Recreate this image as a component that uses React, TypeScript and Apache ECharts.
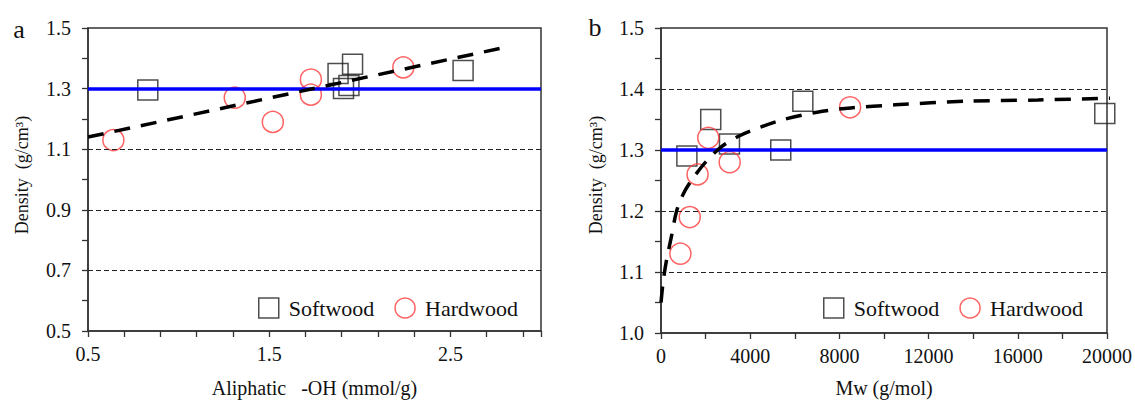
import React, { useEffect, useRef } from "react";
import * as echarts from "echarts";

// ---- Panel a data: Aliphatic -OH (mmol/g) vs density ----
const softwoodA: number[][] = [
  [0.83, 1.295], [1.88, 1.35], [1.96, 1.38], [1.91, 1.30], [1.94, 1.31], [2.57, 1.36],
];
const hardwoodA: number[][] = [
  [0.64, 1.13], [1.31, 1.27], [1.52, 1.19], [1.73, 1.33], [1.73, 1.28], [2.24, 1.37],
];
const fitA: number[][] = [[0.5, 1.14], [2.8, 1.436]];
const gridLinesA = [0.7, 0.9, 1.1];

// ---- Panel b data: Mw (g/mol) vs density ----
const softwoodB: number[][] = [
  [1160, 1.29], [2230, 1.35], [3070, 1.31], [5370, 1.30], [6360, 1.38], [19900, 1.36],
];
const hardwoodB: number[][] = [
  [870, 1.13], [1290, 1.19], [1640, 1.26], [2120, 1.32], [3080, 1.28], [8480, 1.37],
];
const fitB: number[][] = [
  [0, 1.05], [100, 1.085], [250, 1.12], [450, 1.155], [700, 1.2], [1000, 1.228],
  [1400, 1.252], [2000, 1.28], [2700, 1.305], [3500, 1.323], [4500, 1.338],
  [5500, 1.35], [7000, 1.362], [8500, 1.369], [10500, 1.374], [13700, 1.38],
  [16900, 1.382], [20400, 1.385],
];
const gridLinesB = [1.1, 1.2, 1.4];
const refDensity = 1.3;

const FONT = "Liberation Serif";
const TXT = "#111";
const AX = "#333";
const RED = "#ff3b3b";

const axisCommon = {
  axisLine: { show: true, onZero: false, lineStyle: { color: AX, width: 1.5 } },
  axisTick: { show: true, inside: false, length: 6, lineStyle: { color: AX, width: 1.3 } },
  splitLine: { show: false },
};

function refSeries(idx: number, lines: number[]) {
  return {
    type: "line",
    name: "ref" + idx,
    xAxisIndex: idx,
    yAxisIndex: idx,
    data: [],
    silent: true,
    markLine: {
      silent: true,
      symbol: ["none", "none"],
      label: { show: false },
      animation: false,
      data: [
        ...lines.map((v) => ({ yAxis: v, lineStyle: { type: [5, 3], color: "#222", width: 1 } })),
        { yAxis: refDensity, lineStyle: { type: "solid", color: "#0000ff", width: 3.5 } },
      ],
    },
  };
}

function scatter(name: string, idx: number, data: number[][], square: boolean) {
  return {
    type: "scatter",
    name,
    xAxisIndex: idx,
    yAxisIndex: idx,
    data,
    symbol: square ? "rect" : "circle",
    symbolSize: square ? 20 : 21,
    itemStyle: square
      ? { color: "rgba(0,0,0,0)", borderColor: "#222", borderWidth: 1.5 }
      : { color: "rgba(0,0,0,0)", borderColor: RED, borderWidth: 1.5 },
    z: 4,
  };
}

function legendAt(left: number) {
  return {
    left,
    top: 297,
    padding: 0,
    itemWidth: 20,
    itemHeight: 20,
    itemGap: 20,
    selectedMode: false,
    textStyle: { fontFamily: FONT, fontSize: 22, color: TXT, padding: [0, 0, 0, 5] },
    data: [
      { name: "Softwood", icon: "rect", itemStyle: { color: "rgba(0,0,0,0)", borderColor: "#222", borderWidth: 1.5 } },
      { name: "Hardwood", icon: "circle", itemStyle: { color: "rgba(0,0,0,0)", borderColor: RED, borderWidth: 1.5 } },
    ],
  };
}

export default function App() {
  const ref = useRef<HTMLDivElement>(null);
  useEffect(() => {
    if (!ref.current) return;
    const chart = echarts.init(ref.current, undefined, { renderer: "svg" });
    const option: any = {
      animation: false,
      backgroundColor: "#fff",
      textStyle: { fontFamily: FONT },
      grid: [
        { left: 88, top: 28, width: 453, height: 308, show: true, borderColor: AX, borderWidth: 1.5, backgroundColor: "transparent" },
        { left: 661, top: 28, width: 448, height: 308, show: true, borderColor: AX, borderWidth: 1.5, backgroundColor: "transparent" },
      ],
      xAxis: [
        {
          type: "value", gridIndex: 0, min: 0.5, max: 3.0, interval: 0.2, ...axisCommon,
          name: "Aliphatic   -OH (mmol/g)", nameLocation: "middle", nameGap: 47,
          nameTextStyle: { fontFamily: FONT, fontSize: 20, color: TXT },
          axisLabel: {
            fontFamily: FONT, fontSize: 20, color: TXT, margin: 13,
            formatter: (v: number) => { const k = v - 0.5; return Math.abs(k - Math.round(k)) < 1e-6 ? v.toFixed(1) : ""; },
          },
        },
        {
          type: "value", gridIndex: 1, min: 0, max: 20000, interval: 2000, ...axisCommon,
          name: "Mw (g/mol)", nameLocation: "middle", nameGap: 45,
          nameTextStyle: { fontFamily: FONT, fontSize: 20, color: TXT },
          axisLabel: {
            fontFamily: FONT, fontSize: 20, color: TXT, margin: 13,
            formatter: (v: number) => (Math.round(v) % 4000 === 0 ? String(Math.round(v)) : ""),
          },
        },
      ],
      yAxis: [
        {
          type: "value", gridIndex: 0, min: 0.5, max: 1.5, interval: 0.1, ...axisCommon,
          axisLabel: {
            fontFamily: FONT, fontSize: 20, color: TXT, margin: 17,
            formatter: (v: number) => (Math.round(v * 10) % 2 === 1 ? v.toFixed(1) : ""),
          },
        },
        {
          type: "value", gridIndex: 1, min: 1.0, max: 1.5, interval: 0.05, ...axisCommon,
          axisLabel: {
            fontFamily: FONT, fontSize: 20, color: TXT, margin: 17,
            formatter: (v: number) => (Math.round(v * 100) % 10 === 0 ? v.toFixed(1) : ""),
          },
        },
      ],
      legend: [legendAt(258), legendAt(823)],
      graphic: [
        { type: "text", x: 19, y: 29, style: { text: "a", fontFamily: FONT, fontSize: 26, fill: TXT, align: "center", verticalAlign: "middle" } },
        { type: "text", x: 595, y: 27, style: { text: "b", fontFamily: FONT, fontSize: 26, fill: TXT, align: "center", verticalAlign: "middle" } },
        {
          type: "text", x: 22, y: 175, rotation: Math.PI / 2,
          style: { text: "Density  (g/cm³)", fontFamily: FONT, fontSize: 18, fill: TXT, align: "center", verticalAlign: "middle" },
        },
        {
          type: "text", x: 596, y: 175, rotation: Math.PI / 2,
          style: { text: "Density  (g/cm³)", fontFamily: FONT, fontSize: 18, fill: TXT, align: "center", verticalAlign: "middle" },
        },
      ],
      series: [
        refSeries(0, gridLinesA),
        refSeries(1, gridLinesB),
        scatter("Softwood", 0, softwoodA, true),
        scatter("Hardwood", 0, hardwoodA, false),
        scatter("Softwood", 1, softwoodB, true),
        scatter("Hardwood", 1, hardwoodB, false),
        {
          type: "line", name: "fitA", xAxisIndex: 0, yAxisIndex: 0, data: fitA, showSymbol: false, symbol: "none",
          lineStyle: { color: "#000", width: 3.5, type: [16, 11] }, z: 5, silent: true,
        },
        {
          type: "line", name: "fitB", xAxisIndex: 1, yAxisIndex: 1, data: fitB, showSymbol: false, symbol: "none",
          smooth: 0.3, clip: false,
          lineStyle: { color: "#000", width: 3.5, type: [16, 11] }, z: 5, silent: true,
        },
      ],
    };
    chart.setOption(option);
    return () => chart.dispose();
  }, []);
  return <div ref={ref} style={{ position: "fixed", left: 0, top: 0, width: 1135, height: 403 }} />;
}
